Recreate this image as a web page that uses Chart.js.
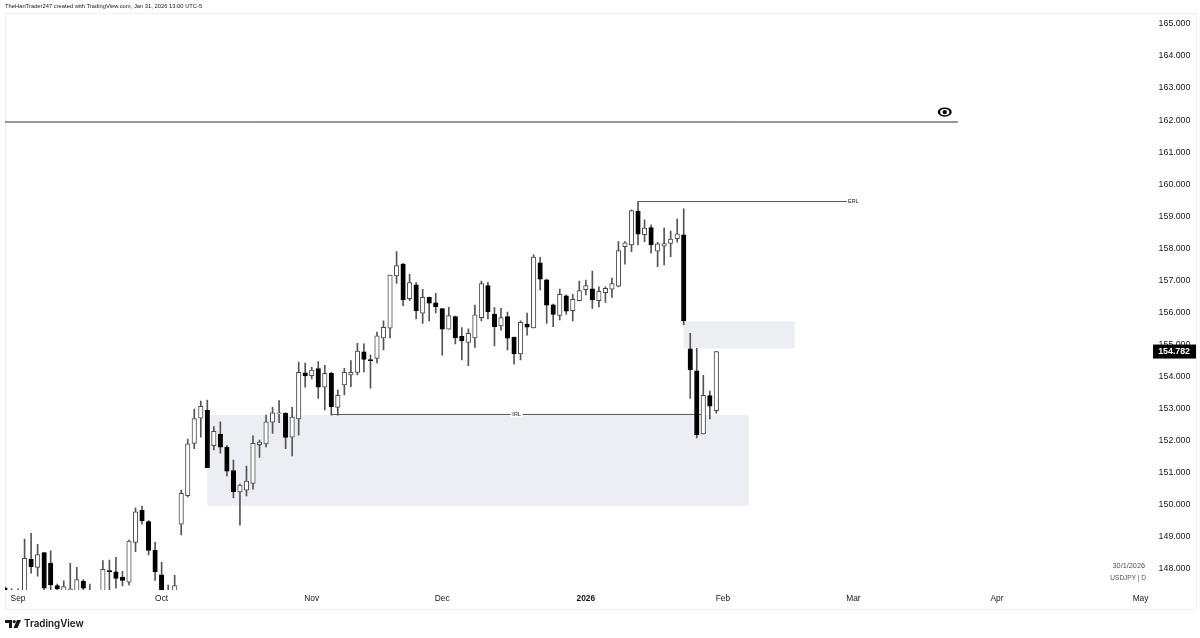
<!DOCTYPE html>
<html>
<head>
<meta charset="utf-8">
<title>USDJPY</title>
<script src="https://cdn.jsdelivr.net/npm/chart.js@4/dist/chart.umd.min.js"></script>
<style>
html, body { margin: 0; padding: 0; background: #fff; overflow: hidden; }
#wrap { position: relative; width: 1200px; height: 638px; font-family: "Liberation Sans", sans-serif; color: #131722; }
#frame { position: absolute; left: 5px; top: 13px; width: 1190px; height: 595px; border: 1px solid #f0f0f3; box-sizing: content-box; }
canvas { position: absolute; left: 0; top: 0; }
#head { position: absolute; left: 5px; top: 2px; font-size: 5.8px; line-height: 8px; white-space: nowrap; }
#logo { position: absolute; left: 5px; top: 619px; }
#brand { position: absolute; left: 24px; top: 617px; font-family: Inter, sans-serif; font-size: 9.8px; line-height: 14px; font-weight: 600; }
</style>
</head>
<body>
<div id="wrap">
  <div id="frame"></div>
  <canvas id="usdjpy_canvas" width="1200" height="638"></canvas>
  <div id="head">TheHanTrader247 created with TradingView.com, Jan 31, 2026 13:00 UTC-5</div>
  <svg id="logo" width="16" height="10" viewBox="0 0 16 10"><path d="M0 1h7v8H4V4H0z M12 1h4l-3.5 8H8.5z" fill="#131722"/><circle cx="9.2" cy="2.6" r="1.6" fill="#131722"/></svg>
  <div id="brand">TradingView</div>
</div>
<script>
// daily bars, from the picture

const opens = [147.41,147.13,147.25,146.72,148.31,148.05,148.51,148.18,147.48,147.19,
147.28,147.16,147.62,147.19,146.90,147.10,147.95,147.91,147.75,147.59,
148.83,149.83,149.48,148.59,147.82,147.03,147.22,149.40,150.29,151.92,
152.70,152.95,151.85,152.21,151.80,151.07,150.40,150.46,150.67,151.88,
151.90,152.58,152.84,152.86,152.11,152.68,154.12,154.03,154.25,153.67,
154.10,153.04,153.74,154.05,154.13,154.77,154.53,154.57,155.21,155.51,
157.14,157.51,156.43,156.86,155.98,156.47,156.30,156.12,155.48,155.87,
155.26,155.07,155.21,155.84,156.84,155.95,155.58,155.87,155.23,154.71,
155.64,155.52,157.55,157.02,156.24,155.91,156.52,156.06,156.37,156.71,
156.74,156.37,156.62,156.73,156.82,158.05,158.11,159.16,158.43,158.65,
157.91,158.07,158.15,158.30,158.42,154.87,154.18,152.21,153.41,152.94];

const highs = [147.44,147.38,147.38,148.93,149.11,148.77,148.51,148.57,147.53,147.63,
148.18,148.05,147.67,147.53,147.30,148.26,148.28,148.36,147.93,148.90,
149.91,149.96,149.51,148.83,148.21,147.50,147.80,150.46,152.05,152.99,
153.24,153.27,152.44,152.59,151.85,151.40,150.65,151.21,152.15,152.02,
152.80,153.04,153.25,152.87,153.04,154.45,154.42,154.29,154.47,154.35,
154.14,153.58,154.26,154.50,155.04,155.02,154.67,155.39,155.74,157.17,
157.90,157.53,157.19,156.93,156.72,156.48,156.60,156.13,156.16,155.89,
155.53,155.49,156.23,156.98,156.94,156.15,156.13,156.01,155.23,155.74,
155.98,157.80,157.72,157.04,156.26,156.73,156.55,156.57,156.98,157.01,
157.29,156.80,156.80,157.07,158.21,158.21,159.20,159.46,158.89,158.73,
158.19,158.63,158.54,158.91,159.23,155.35,154.88,154.04,153.55,154.79];

const lows = [147.10,147.00,146.90,146.60,147.87,147.78,147.19,147.16,147.20,147.10,
147.10,147.05,147.25,146.95,146.80,147.00,147.16,147.40,147.47,147.50,
148.54,149.40,148.44,147.64,147.00,146.95,147.10,149.06,150.25,151.75,
152.11,151.16,151.71,151.61,150.90,150.22,149.37,150.28,150.49,151.48,
151.81,152.23,152.56,151.75,151.53,152.17,153.67,153.93,153.32,152.96,
152.80,152.80,153.43,153.69,154.05,154.15,153.64,154.43,154.83,155.21,
156.91,156.21,156.37,155.80,155.66,155.74,155.99,154.67,155.48,155.02,
154.52,154.34,154.91,155.74,155.80,154.96,155.45,154.83,154.39,154.52,
155.29,155.52,156.70,155.66,155.56,155.77,155.95,155.74,156.36,156.55,
156.13,156.17,156.31,156.47,156.80,157.51,157.90,158.11,158.21,157.85,
157.43,157.48,157.74,158.19,155.61,153.32,152.09,152.21,152.68,152.86];

const closes = [147.20,147.28,147.03,148.33,148.07,148.45,147.40,147.50,147.38,147.45,
147.38,147.67,147.40,147.03,147.10,147.99,147.92,147.71,147.64,148.87,
149.78,149.51,148.58,147.92,147.13,147.28,147.48,150.36,151.90,152.69,
153.07,151.16,152.29,151.80,151.05,150.41,150.62,150.74,151.92,151.96,
152.59,152.87,152.87,152.10,152.74,154.13,154.02,154.20,153.67,154.10,
153.06,153.42,154.13,154.13,154.80,154.54,154.50,155.27,155.54,157.17,
157.46,156.39,156.93,156.06,156.47,156.29,156.18,155.48,155.90,155.21,
155.11,155.35,155.93,156.90,156.02,155.56,155.84,155.20,154.71,155.69,
155.54,157.73,157.04,156.23,155.94,156.57,156.04,156.41,156.68,156.84,
156.39,156.66,156.75,156.90,157.93,158.17,159.18,158.44,158.63,158.11,
158.14,158.15,158.29,158.45,155.74,154.21,152.18,153.42,153.08,154.782];

// axes
const priceTicks = [148,149,150,151,152,153,154,155,156,157,158,159,160,161,162,163,164,165];
const timeTicks = [2,24,47,67,89,110,130,152,174];
const timeNames = ["Sep","Oct","Nov","Dec","2026","Feb","Mar","Apr","May"];

// drawings: [first bar, last bar, price]
const lineBSL = [0,146,161.94];
const lineERL = [97,129,159.46];
const lineIRL = [50,107,152.82];
// zones: [first bar, last bar, top, bottom]
const zoneLow = [31,114,152.80,149.97];
const zoneHigh = [104,121,155.72,154.88];
const lastPrice = 154.782;

const ink = "#131722";

function hline(d, color) {
  return {
    type: 'line',
    data: [{x: d[0], y: d[2]}, {x: d[1], y: d[2]}],
    borderColor: color,
    borderWidth: 1,
    pointRadius: 0,
    order: 3,
  };
}

const annotations = {
  id: 'annotations',
  beforeDatasetsDraw(chart) {
    const {ctx, scales: {x, y}} = chart;
    ctx.save();
    ctx.fillStyle = "#edeef3";
    [zoneLow, zoneHigh].forEach(z => {
      ctx.fillRect(x.getPixelForValue(z[0]), y.getPixelForValue(z[2]),
        x.getPixelForValue(z[1]) - x.getPixelForValue(z[0]), y.getPixelForValue(z[3]) - y.getPixelForValue(z[2]));
    });
    ctx.restore();
  },
  afterDraw(chart) {
    const {ctx, scales: {x, y}} = chart;
    ctx.save();
    ctx.textBaseline = 'middle';

    // IRL / ERL tags
    ctx.font = '5.5px "Liberation Sans"';
    ctx.textAlign = 'center';
    const irlX = x.getPixelForValue(78.4);
    const irlY = y.getPixelForValue(lineIRL[2]);
    ctx.fillStyle = "#fff";
    ctx.fillRect(irlX - 6, irlY - 3, 12, 6);
    ctx.fillStyle = ink;
    ctx.fillText("IRL", irlX, irlY);
    ctx.fillText("ERL", x.getPixelForValue(130), y.getPixelForValue(lineERL[2]));

    // eye icon on the upper line
    const eyeX = x.getPixelForValue(144);
    const eyeY = y.getPixelForValue(162.25);
    ctx.fillStyle = "#000";
    ctx.beginPath();
    ctx.ellipse(eyeX, eyeY, 7, 4.6, 0, 0, Math.PI * 2);
    ctx.fill();
    ctx.fillStyle = "#fff";
    ctx.beginPath();
    ctx.ellipse(eyeX, eyeY, 4.6, 3.2, 0, 0, Math.PI * 2);
    ctx.fill();
    ctx.fillStyle = "#000";
    ctx.beginPath();
    ctx.arc(eyeX, eyeY, 2.2, 0, Math.PI * 2);
    ctx.fill();

    // last price tag
    const tagY = y.getPixelForValue(lastPrice);
    ctx.fillStyle = "#000";
    ctx.fillRect(1153, tagY - 7, 43, 14);
    ctx.fillStyle = "#fff";
    ctx.font = 'bold 8.8px "Liberation Sans"';
    ctx.textAlign = 'right';
    ctx.fillText(lastPrice.toFixed(3), 1190, tagY + 0.5);

    // symbol note
    ctx.fillStyle = "#4a4f5c";
    ctx.font = '7.3px "Liberation Sans"';
    ctx.fillText("30/1/2026", 1145, 566);
    ctx.font = '6.5px "Liberation Sans"';
    ctx.fillText("USDJPY | D", 1146, 578);
    ctx.restore();
  },
};

new Chart(document.getElementById('usdjpy_canvas').getContext('2d'), {
  type: 'bar',
  plugins: [annotations],
  data: {
    datasets: [
      hline(lineBSL, "#2a2e39"),
      hline(lineERL, "#555"),
      hline(lineIRL, "#555"),
      {
        // wicks
        data: highs.map((h, i) => ({x: i, y: [lows[i], h]})),
        backgroundColor: "#555",
        barThickness: 1,
        grouped: false,
        order: 2,
      },
      {
        // bodies
        data: opens.map((o, i) => ({x: i, y: [o, closes[i]]})),
        backgroundColor: opens.map((o, i) => closes[i] >= o ? "#fff" : "#000"),
        borderColor: opens.map((o, i) => closes[i] >= o ? "#4a4a4a" : "#000"),
        borderWidth: 1,
        borderSkipped: false,
        barThickness: 4.5,
        grouped: false,
        order: 1,
      },
    ],
  },
  options: {
    responsive: false,
    devicePixelRatio: 1,
    animation: false,
    layout: { padding: { left: 5, top: 13, right: 4, bottom: 29 } },
    plugins: { legend: { display: false }, tooltip: { enabled: false } },
    scales: {
      x: {
        type: 'linear',
        offset: false,
        min: 0,
        max: 176,
        grid: { display: false, offset: false, tickLength: 0 },
        border: { display: false },
        afterBuildTicks: s => { s.ticks = timeTicks.map(v => ({value: v})); },
        afterFit: s => { s.height = 19; },
        ticks: {
          autoSkip: false,
          maxRotation: 0,
          padding: 4,
          color: ink,
          font: c => ({ family: '"Liberation Sans"', size: 8.4, weight: c.tick && c.tick.label === "2026" ? 'bold' : 'normal' }),
          callback: v => timeNames[timeTicks.indexOf(v)],
        },
      },
      y: {
        position: 'right',
        min: 147.345,
        max: 165.34,
        grid: { display: false, tickLength: 0 },
        border: { display: false },
        afterBuildTicks: s => { s.ticks = priceTicks.map(v => ({value: v})); },
        afterFit: s => { s.width = 42.4; },
        ticks: {
          padding: 5,
          color: ink,
          font: { family: '"Liberation Sans"', size: 8.8 },
          callback: v => v.toFixed(3),
        },
      },
    },
  },
});
</script>
</body>
</html>
